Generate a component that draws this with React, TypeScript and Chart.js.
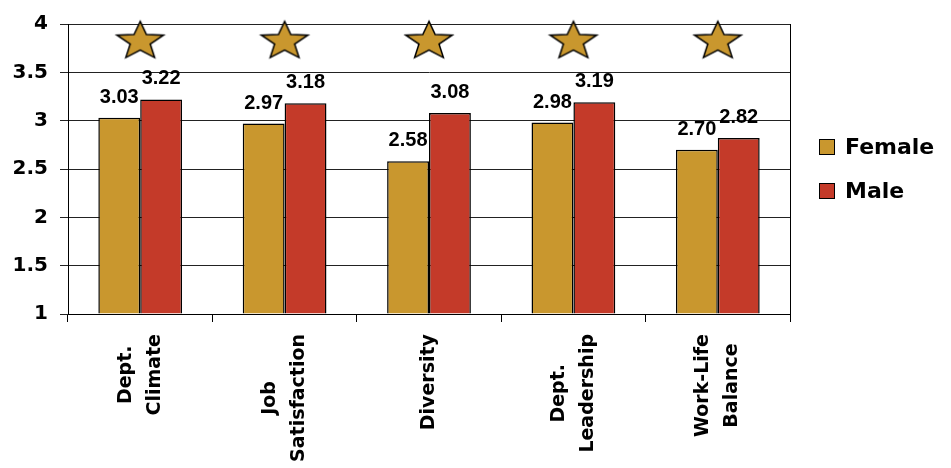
import React, { useEffect, useRef } from "react";
import { Chart, registerables } from "chart.js";

Chart.register(...registerables);

const categories: string[][] = [
  ["Dept.", "Climate"],
  ["Job", "Satisfaction"],
  ["Diversity"],
  ["Dept.", "Leadership"],
  ["Work-Life", "Balance"],
];
const seriesNames = ["Female", "Male"];
const femaleValues = [3.03, 2.97, 2.58, 2.98, 2.7];
const maleValues = [3.22, 3.18, 3.08, 3.19, 2.82];
const starValues = [3.84, 3.84, 3.84, 3.84, 3.84];
const yTickValues = [1, 1.5, 2, 2.5, 3, 3.5, 4];
const yTickLabels = ["1", "1.5", "2", "2.5", "3", "3.5", "4"];

const FEMALE_COLOR = "#C9972E";
const MALE_COLOR = "#C43A29";

function makeStar(): HTMLCanvasElement {
  const w = 56;
  const h = 44;
  const c = document.createElement("canvas");
  c.width = w;
  c.height = h;
  const ctx = c.getContext("2d")!;
  const rx = 24.5;
  const ry = 20;
  const cx = w / 2;
  const totalH = ry * (1 + Math.cos(Math.PI / 5));
  const cy = (h - totalH) / 2 + ry;
  ctx.beginPath();
  for (let k = 0; k < 10; k++) {
    const r = k % 2 === 0 ? 1 : 0.43;
    const a = -Math.PI / 2 + (k * Math.PI) / 5;
    const px = cx + rx * r * Math.cos(a);
    const py = cy + ry * r * Math.sin(a);
    if (k === 0) ctx.moveTo(px, py);
    else ctx.lineTo(px, py);
  }
  ctx.closePath();
  ctx.fillStyle = FEMALE_COLOR;
  ctx.fill();
  ctx.lineWidth = 1.5;
  ctx.strokeStyle = "#000";
  ctx.lineJoin = "miter";
  ctx.stroke();
  return c;
}

const extrasPlugin = {
  id: "extras",
  afterDatasetsDraw(chart: any) {
    const ctx = chart.ctx as CanvasRenderingContext2D;
    ctx.save();
    ctx.font = 'bold 20px "Liberation Sans", Arial, sans-serif';
    ctx.fillStyle = "#000";
    ctx.textAlign = "center";
    ctx.textBaseline = "alphabetic";
    [0, 1].forEach((di) => {
      const meta = chart.getDatasetMeta(di);
      meta.data.forEach((bar: any, i: number) => {
        const v = chart.data.datasets[di].data[i] as number;
        ctx.fillText(v.toFixed(2), bar.x, bar.y - 15);
      });
    });
    ctx.restore();
  },
  afterDraw(chart: any) {
    const ctx = chart.ctx as CanvasRenderingContext2D;
    const area = chart.chartArea;
    // right border
    ctx.save();
    ctx.strokeStyle = "#000";
    ctx.lineWidth = 1;
    const rx = Math.round(area.right) + 0.5;
    ctx.beginPath();
    ctx.moveTo(rx, area.top);
    ctx.lineTo(rx, area.bottom);
    ctx.stroke();
    ctx.restore();

    // category labels (rotated, centered lines)
    const xs = chart.scales.x;
    ctx.save();
    ctx.font = 'bold 19px "DejaVu Sans", sans-serif';
    ctx.fillStyle = "#000";
    categories.forEach((lines, i) => {
      const cx = xs.getPixelForValue(i);
      const widths = lines.map((l) => ctx.measureText(l).width);
      const maxW = Math.max(...widths);
      ctx.save();
      ctx.translate(cx, area.bottom + 20);
      ctx.rotate(-Math.PI / 2);
      ctx.textAlign = "center";
      ctx.textBaseline = "middle";
      lines.forEach((l, j) => {
        ctx.fillText(l, -maxW / 2, (j - (lines.length - 1) / 2) * 29);
      });
      ctx.restore();
    });
    ctx.restore();

    // legend
    ctx.save();
    const colors = [FEMALE_COLOR, MALE_COLOR];
    const midY = (area.top + area.bottom) / 2;
    ctx.font = 'bold 22px "DejaVu Sans", sans-serif';
    ctx.textAlign = "left";
    ctx.textBaseline = "middle";
    seriesNames.forEach((name, i) => {
      const cy = midY - 22 + i * 44;
      const bx = area.right + 29;
      ctx.fillStyle = colors[i];
      ctx.fillRect(bx, cy - 8, 16, 16);
      ctx.strokeStyle = "#000";
      ctx.lineWidth = 1;
      ctx.strokeRect(bx + 0.5, cy - 7.5, 15, 15);
      ctx.fillStyle = "#000";
      ctx.fillText(name, bx + 26, cy + 1);
    });
    ctx.restore();
  },
};

export default function App() {
  const canvasRef = useRef<HTMLCanvasElement | null>(null);

  useEffect(() => {
    if (!canvasRef.current) return;
    const star = makeStar();
    const chart = new Chart(canvasRef.current, {
      type: "bar",
      data: {
        labels: categories.map((c) => c.join(" ")),
        datasets: [
          {
            type: "bar",
            label: seriesNames[0],
            data: femaleValues,
            backgroundColor: FEMALE_COLOR,
            borderColor: "#000",
            borderWidth: 1.5,
            barPercentage: 1,
            categoryPercentage: 0.58,
            base: 1,
          } as any,
          {
            type: "bar",
            label: seriesNames[1],
            data: maleValues,
            backgroundColor: MALE_COLOR,
            borderColor: "#000",
            borderWidth: 1.5,
            barPercentage: 1,
            categoryPercentage: 0.58,
            base: 1,
          } as any,
          {
            type: "line",
            label: "stars",
            data: starValues,
            showLine: false,
            pointStyle: star as any,
            pointRadius: 20,
            borderWidth: 0,
            clip: false,
          } as any,
        ],
      },
      options: {
        responsive: false,
        animation: false,
        events: [],
        layout: { padding: { left: 0, top: 22, right: 161, bottom: 0 } },
        plugins: {
          legend: { display: false },
          tooltip: { enabled: false },
          title: { display: false },
        },
        scales: {
          x: {
            offset: true,
            grid: {
              offset: true,
              drawOnChartArea: false,
              drawTicks: true,
              tickLength: 8,
              color: "#000",
            },
            border: { color: "#000", width: 1 },
            ticks: { display: false },
            afterFit: (s: any) => {
              s.height = 154;
            },
          },
          y: {
            min: 1,
            max: 4,
            afterBuildTicks: (s: any) => {
              s.ticks = yTickValues.map((v) => ({ value: v }));
            },
            ticks: {
              callback: (v: any) => yTickLabels[yTickValues.indexOf(Number(v))],
              font: { family: '"DejaVu Sans", sans-serif', weight: "bold", size: 20 },
              color: "#000",
              padding: 12,
            },
            grid: { color: "#222", tickLength: 8, lineWidth: 1 },
            border: { color: "#000", width: 1 },
            afterFit: (s: any) => {
              s.width = 68;
            },
          },
        },
      } as any,
      plugins: [extrasPlugin],
    });
    return () => chart.destroy();
  }, []);

  return (
    <div style={{ position: "fixed", left: 0, top: 0, width: 951, height: 468, background: "#fff" }}>
      <canvas ref={canvasRef} width={951} height={468} style={{ width: 951, height: 468 }} />
    </div>
  );
}
